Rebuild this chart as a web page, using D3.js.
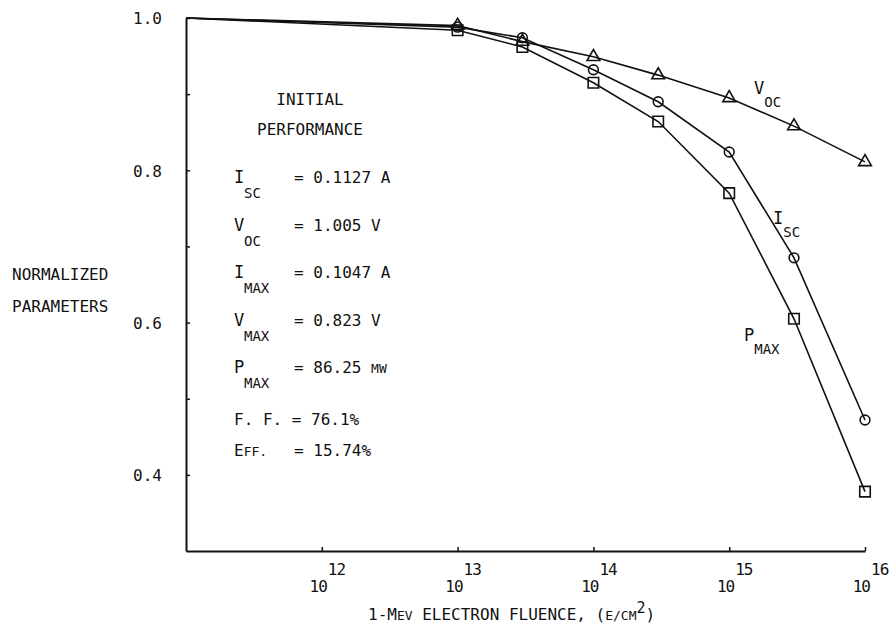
<!DOCTYPE html>
<html>
<head>
<meta charset="utf-8">
<script src="https://cdn.jsdelivr.net/npm/d3@7"></script>
<style>
  body { margin: 0; background: #fff; }
  svg text { font-family: "DejaVu Sans Mono", "Liberation Mono", monospace; fill: #111; }
</style>
</head>
<body>
<script>
// fluence (e/cm^2); first point is the start of the curves at the left axis
const fluence = [1e11, 1e13, 3e13, 1e14, 3e14, 1e15, 3e15, 1e16];
const vocValues = [1.0, 0.990, 0.969, 0.949, 0.925, 0.895, 0.858, 0.811];
const iscValues = [1.0, 0.988, 0.974, 0.932, 0.890, 0.824, 0.685, 0.472];
const pmaxValues = [1.0, 0.984, 0.962, 0.915, 0.864, 0.770, 0.605, 0.378];

const xTicks = [1e12, 1e13, 1e14, 1e15, 1e16];
const yTicks = [0.4, 0.5, 0.6, 0.7, 0.8, 0.9, 1.0];
const yLabels = [0.4, 0.6, 0.8, 1.0];

const initialParams = [
    {sym: "I", sub: "SC", val: "= 0.1127 A"},
    {sym: "V", sub: "OC", val: "= 1.005 V"},
    {sym: "I", sub: "MAX", val: "= 0.1047 A"},
    {sym: "V", sub: "MAX", val: "= 0.823 V"},
    {sym: "P", sub: "MAX", val: "= 86.25 ", unit: "MW"}
];

const svgWidth = 891;
const svgHeight = 631;

const svg = d3.select("body").append("svg")
    .attr("width", svgWidth)
    .attr("height", svgHeight);

const scaleX = d3.scaleLog().domain([1e11, 1e16]).range([186, 865]);
const scaleY = d3.scaleLinear().domain([0.3, 1.0]).range([551, 18]);

// axes
const yAxis = svg.append("g")
    .attr("transform", "translate(186,0)")
    .call(d3.axisLeft(scaleY)
        .tickValues(yTicks)
        .tickSize(-4)
        .tickSizeOuter(0)
        .tickPadding(24)
        .tickFormat(d => yLabels.some(v => Math.abs(v - d) < 1e-9) ? d3.format(".1f")(d) : ""));
yAxis.select(".domain").attr("stroke", "#111").attr("stroke-width", 2);
yAxis.selectAll(".tick line").attr("stroke", "#111").attr("stroke-width", 1.5);
yAxis.selectAll(".tick text").attr("font-size", 16).attr("dy", "0.36em");

const xAxis = svg.append("g")
    .attr("transform", "translate(0,551)")
    .call(d3.axisBottom(scaleX)
        .tickValues(xTicks)
        .tickSize(-4)
        .tickSizeOuter(0)
        .tickFormat(""));
xAxis.select(".domain").attr("stroke", "#111").attr("stroke-width", 2);
xAxis.selectAll(".tick line").attr("stroke", "#111").attr("stroke-width", 1.5);

// tick labels as 10 with superscript
xTicks.forEach(t => {
    const px = scaleX(t);
    svg.append("text")
        .attr("x", px + 5).attr("y", 592)
        .attr("text-anchor", "end")
        .attr("font-size", 16)
        .attr("letter-spacing", -1)
        .text("10");
    svg.append("text")
        .attr("x", px + 6).attr("y", 575)
        .attr("font-size", 16)
        .attr("letter-spacing", -1)
        .text(Math.round(Math.log10(t)));
});

// axis titles
const xTitle = svg.append("text")
    .attr("x", 368).attr("y", 620)
    .attr("font-size", 16);
xTitle.append("tspan").text("1-M");
xTitle.append("tspan").attr("font-size", 13).text("EV");
xTitle.append("tspan").text(" ELECTRON FLUENCE, (");
xTitle.append("tspan").attr("font-size", 13).text("E/CM");
xTitle.append("tspan").attr("dy", -7).attr("font-size", 15).text("2");
xTitle.append("tspan").attr("dy", 7).text(")");

svg.append("text").attr("x", 12).attr("y", 280).attr("font-size", 16).text("NORMALIZED");
svg.append("text").attr("x", 12).attr("y", 312).attr("font-size", 16).text("PARAMETERS");

// curves
const series = [
    {values: vocValues, marker: d3.symbolTriangle, size: 70},
    {values: iscValues, marker: d3.symbolCircle, size: 75},
    {values: pmaxValues, marker: d3.symbolSquare, size: 110}
];

const line = d3.line()
    .x(d => scaleX(d[0]))
    .y(d => scaleY(d[1]));

series.forEach(s => {
    const pts = fluence.map((f, i) => [f, s.values[i]]);
    svg.append("path")
        .datum(pts)
        .attr("d", line)
        .attr("fill", "none")
        .attr("stroke", "#111")
        .attr("stroke-width", 1.6);
    svg.append("g")
        .selectAll("path")
        .data(pts.slice(1))
        .join("path")
        .attr("transform", d => `translate(${scaleX(d[0])},${scaleY(d[1])})`)
        .attr("d", d3.symbol(s.marker, s.size))
        .attr("fill", "none")
        .attr("stroke", "#111")
        .attr("stroke-width", 1.6);
});

// curve labels
function subLabel(x, y, main, sub) {
    const t = svg.append("text").attr("x", x).attr("y", y).attr("font-size", 17);
    t.append("tspan").text(main);
    t.append("tspan").attr("dy", 13).attr("font-size", 14).text(sub);
}
subLabel(754, 94, "V", "OC");
subLabel(773, 224, "I", "SC");
subLabel(744, 341, "P", "MAX");

// initial performance box
svg.append("text").attr("x", 310).attr("y", 105).attr("text-anchor", "middle").attr("font-size", 16).text("INITIAL");
svg.append("text").attr("x", 310).attr("y", 135).attr("text-anchor", "middle").attr("font-size", 16).text("PERFORMANCE");

initialParams.forEach((p, i) => {
    const y = 183 + i * 47.5;
    svg.append("text").attr("x", 234).attr("y", y).attr("font-size", 17).text(p.sym);
    svg.append("text").attr("x", 244).attr("y", y + 15).attr("font-size", 14).text(p.sub);
    const v = svg.append("text").attr("x", 294).attr("y", y).attr("font-size", 16).text(p.val);
    if (p.unit) v.append("tspan").attr("font-size", 13).text(p.unit);
});

svg.append("text").attr("x", 234).attr("y", 425).attr("font-size", 16).text("F. F. = 76.1%");
const eff = svg.append("text").attr("x", 234).attr("y", 456).attr("font-size", 16);
eff.append("tspan").text("E");
eff.append("tspan").attr("font-size", 13).text("FF.");
svg.append("text").attr("x", 294).attr("y", 456).attr("font-size", 16).text("= 15.74%");
</script>
</body>
</html>
